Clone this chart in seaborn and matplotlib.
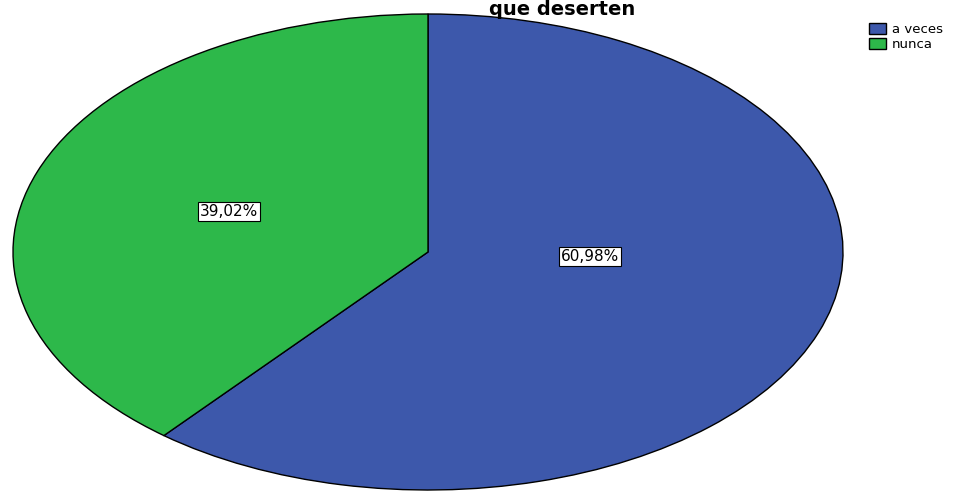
import matplotlib
matplotlib.use("Agg")
import matplotlib.pyplot as plt
import seaborn as sns
import numpy as np

categories = ["a veces", "nunca"]
values = [60.98, 39.02]
pct_labels = ["60,98%", "39,02%"]
title_text = "que deserten"
colors = ["#3D58AB", "#2DB84A"]

sns.set_theme(style="white")
plt.rcParams["font.family"] = ["DejaVu Sans"]
plt.rcParams["text.color"] = "black"

fig = plt.figure(figsize=(9.64, 4.91), dpi=100)
ax = fig.add_axes([13 / 964, 1 - 490 / 491, 830 / 964, 476 / 491])

wedges, _ = ax.pie(values, colors=colors, startangle=90, counterclock=False,
                   wedgeprops=dict(edgecolor="black", linewidth=1.0))
ax.set_aspect("auto")
ax.set_xlim(-1, 1)
ax.set_ylim(-1, 1)
ax.axis("off")

# label positions (fraction of radius, at wedge)
label_pos = [(0.39, -0.02), (-0.48, 0.17)]
for txt, (x, y) in zip(pct_labels, label_pos):
    ax.text(x, y, txt, ha="center", va="center", fontsize=11, color="black",
            bbox=dict(boxstyle="square,pad=0.12", facecolor="white",
                      edgecolor="black", linewidth=0.8))

fig.text(562 / 964, 1 - 15 / 491, title_text, ha="center", va="baseline",
         fontsize=14, fontweight="bold", color="black")

fig.legend(wedges, categories, loc="upper left",
           bbox_to_anchor=(860 / 964, 1 - 14 / 491), frameon=False,
           fontsize=9.5, handlelength=1.3, handleheight=0.9,
           handletextpad=0.4, labelspacing=0.1, borderpad=0.2,
           labelcolor="black")

fig.savefig("out.png", dpi=100)
